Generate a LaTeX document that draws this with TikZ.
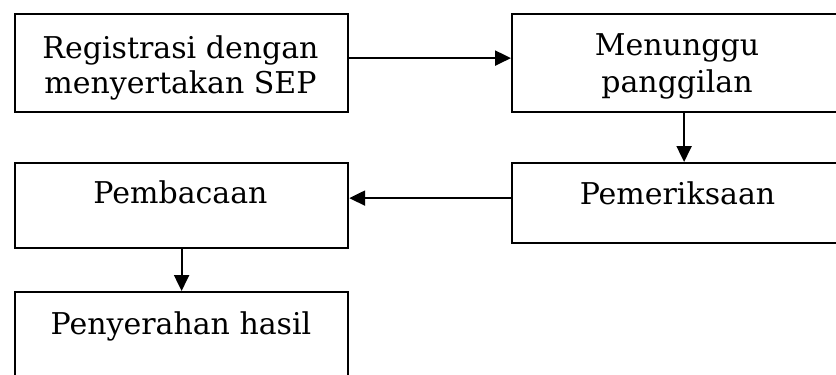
\documentclass[tikz,border=0pt]{standalone}
\usepackage{fontspec}
\setmainfont{DejaVu Serif}
\usetikzlibrary{arrows.meta}
\begin{document}
\begin{tikzpicture}[x=1pt,y=-1pt,
  box/.style={draw=black, line width=2.2pt, anchor=north west, inner sep=0pt},
  lbl/.style={anchor=base, inner sep=0pt, font=\fontsize{30}{36}\selectfont},
  arr/.style={line width=2.2pt, -{Triangle[length=16pt,width=15pt]}}]
  \useasboundingbox (0,0) rectangle (836,375);
  % process boxes
  \node[box, minimum width=333pt, minimum height=98pt] (b1) at (14,13) {};
  \node[box, minimum width=332pt, minimum height=98pt] (b2) at (511,13) {};
  \node[box, minimum width=332pt, minimum height=80pt] (b3) at (511,162) {};
  \node[box, minimum width=333pt, minimum height=85pt] (b4) at (14,162) {};
  \node[box, minimum width=333pt, minimum height=87pt] (b5) at (14,291) {};
  % box texts
  \node[lbl] (t1a) at (180.5,58) {Registrasi dengan};
  \node[lbl] (t1b) at (180.5,93) {menyertakan SEP};
  \node[lbl] (t2a) at (677,55) {Menunggu};
  \node[lbl] (t2b) at (677,92) {panggilan};
  \node[lbl] (t3) at (677.5,204) {Pemeriksaan};
  \node[lbl] (t4) at (180.5,203) {Pembacaan};
  \node[lbl] (t5) at (181,334) {Penyerahan hasil};
  % connectors
  \draw[arr] ([yshift=5pt]b1.east) -- ([yshift=5pt]b2.west);
  \draw[arr] ([xshift=6pt]b2.south) -- ([xshift=6pt]b3.north);
  \coordinate (m3) at ([yshift=5pt]b3.west);
  \draw[arr] (m3) -- (m3 -| b4.east);
  \draw[arr] (b4.south) -- (b5.north);
\end{tikzpicture}
\end{document}
